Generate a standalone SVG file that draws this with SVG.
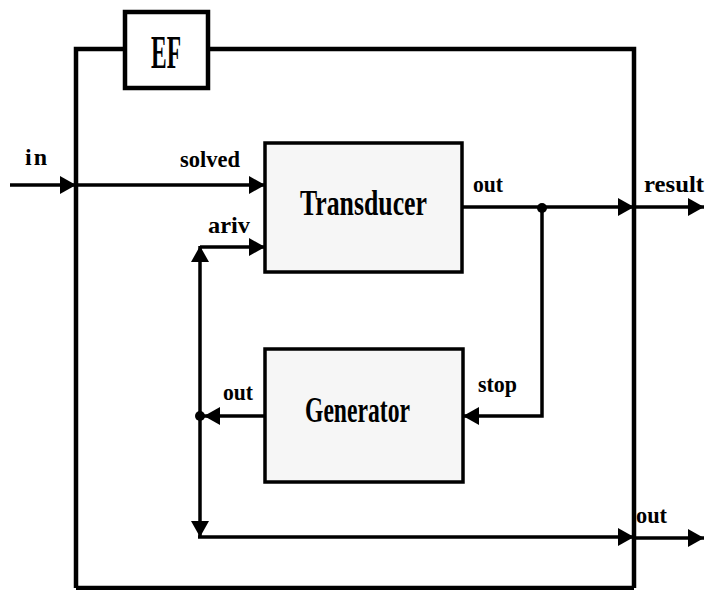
<svg xmlns="http://www.w3.org/2000/svg" width="705" height="590" viewBox="0 0 705 590">
  <style>
    .frame { fill: none; stroke: #000; stroke-width: 4.5; }
    .box { fill: #f6f6f6; stroke: #000; stroke-width: 3.5; }
    .wire { fill: none; stroke: #000; stroke-width: 3.5; marker-end: url(#arrow); }
    .lbl { font-family: "Liberation Serif", "Times New Roman", serif; font-size: 24px; font-weight: bold; fill: #000; }
    .name { font-family: "Liberation Serif", "Times New Roman", serif; font-size: 36px; font-weight: bold; fill: #000; }
    .dot { fill: #000; }
  </style>
  <defs>
    <marker id="arrow" viewBox="0 0 16 18" refX="16" refY="9" markerWidth="16" markerHeight="18" markerUnits="userSpaceOnUse" orient="auto">
      <path d="M0,0 L16,9 L0,18 z" fill="#000"/>
    </marker>
  </defs>

  <!-- enclosing block frame with its tab -->
  <g id="frame">
    <path class="frame" d="M76,588 V49 H125 M208,49 H634 V588 M76,588 H634"/>
  </g>
  <g id="ef">
    <rect class="frame" x="125" y="12" width="83" height="76" fill="#fff"/>
    <text x="151" y="68" font-family="Liberation Serif, serif" font-size="46" font-weight="bold" textLength="30" lengthAdjust="spacingAndGlyphs">EF</text>
  </g>

  <g id="transducer">
    <rect class="box" x="265" y="143" width="197" height="129"/>
    <text class="name" x="300" y="215" textLength="127" lengthAdjust="spacingAndGlyphs">Transducer</text>
  </g>

  <g id="generator">
    <rect class="box" x="265" y="349" width="198" height="133"/>
    <text class="name" x="305" y="422" textLength="105" lengthAdjust="spacingAndGlyphs">Generator</text>
  </g>

  <g id="connectors">
    <path class="wire" d="M10,185 H76"/>
    <path class="wire" d="M76,185 H265"/>
    <path class="wire" d="M200,247 H265"/>
    <path class="wire" d="M200,416 V246"/>
    <path class="wire" d="M200,416 V537"/>
    <path class="wire" d="M198,537 H634"/>
    <path class="wire" d="M265,416 H204"/>
    <path class="wire" d="M462,207 H634"/>
    <path class="wire" d="M636,207 H704"/>
    <path class="wire" d="M542,207 V416 H463"/>
    <path class="wire" d="M636,538 H704"/>
    <circle class="dot" cx="542" cy="208" r="5"/>
    <circle class="dot" cx="200" cy="416" r="5"/>
  </g>

  <g id="labels">
    <text class="lbl" x="25" y="165" textLength="22" lengthAdjust="spacing">in</text>
    <text class="lbl" x="180" y="167" textLength="60" lengthAdjust="spacingAndGlyphs">solved</text>
    <text class="lbl" x="208" y="233" textLength="42" lengthAdjust="spacingAndGlyphs">ariv</text>
    <text class="lbl" x="473" y="192" textLength="30" lengthAdjust="spacingAndGlyphs">out</text>
    <text class="lbl" x="644" y="192" textLength="60" lengthAdjust="spacingAndGlyphs">result</text>
    <text class="lbl" x="478" y="392" textLength="39" lengthAdjust="spacingAndGlyphs">stop</text>
    <text class="lbl" x="223" y="400" textLength="30" lengthAdjust="spacingAndGlyphs">out</text>
    <text class="lbl" x="636" y="523" textLength="31" lengthAdjust="spacingAndGlyphs">out</text>
  </g>
</svg>
